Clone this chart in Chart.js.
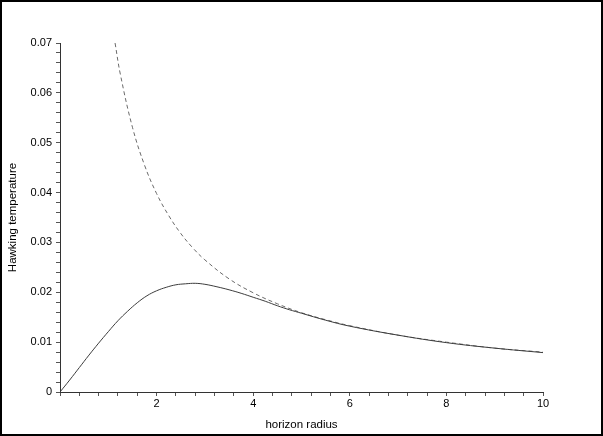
<!DOCTYPE html>
<html><head><meta charset="utf-8">
<script src="https://cdn.jsdelivr.net/npm/chart.js@4"></script>
<style>
html,body{margin:0;padding:0;background:#fff;}
#wrap{width:603px;height:436px;box-sizing:border-box;border:2px solid #000;position:relative;background:#fff;}
canvas{display:block;}
</style></head><body>
<div id="wrap"><canvas id="c" width="599" height="432"></canvas></div>
<script>
// horizon radius values (x) and Hawking temperature values (y)
const radiusSolid = [0, 0.2, 0.4, 0.6, 0.8, 1.0, 1.2, 1.4, 1.6, 1.8, 2.0, 2.2, 2.4, 2.6, 2.8, 3.0, 3.25, 3.5, 3.75, 4.0, 4.25, 4.5, 4.75, 5.0, 5.5, 6.0, 7.0, 8.0, 9.0, 10.0];
const tempSolid   = [0, 0.0024, 0.0049, 0.0074, 0.0098, 0.0121, 0.0143, 0.0162, 0.0179, 0.0193, 0.0203, 0.0210, 0.0215, 0.0217, 0.0218, 0.0216, 0.0211, 0.0205, 0.0198, 0.0190, 0.0182, 0.0173, 0.0165, 0.0158, 0.0144, 0.0132, 0.0114, 0.0099, 0.0088, 0.0079];
const radiusDashed = [1.14, 1.25, 1.5, 1.75, 2.0, 2.25, 2.5, 2.75, 3.0, 3.5, 4.0, 4.5, 5.0, 5.5, 6.0, 7.0, 8.0, 9.0, 10.0];
const tempDashed   = [0.0700, 0.0637, 0.0531, 0.0455, 0.0398, 0.0354, 0.0318, 0.0289, 0.0265, 0.0227, 0.0199, 0.0177, 0.0159, 0.0145, 0.0133, 0.0114, 0.0100, 0.0088, 0.0080];
const xTickLabels = ['2', '4', '6', '8', '10'];
const yTickLabels = ['0', '0.01', '0.02', '0.03', '0.04', '0.05', '0.06', '0.07'];
const xTitle = 'horizon radius';
const yTitle = 'Hawking temperature';

const toPts = (xs, ys) => xs.map((x, i) => ({x: x, y: ys[i]}));
const near = (v, t) => Math.abs(v - t) < 1e-6;

new Chart(document.getElementById('c'), {
  type: 'line',
  data: {
    datasets: [
      {data: toPts(radiusSolid, tempSolid), borderColor: '#3c3c3c', borderWidth: 1, pointRadius: 0, tension: 0.4, fill: false},
      {data: toPts(radiusDashed, tempDashed), borderColor: '#6a6a6a', borderWidth: 1, borderDash: [4, 3], pointRadius: 0, tension: 0.4, fill: false}
    ]
  },
  options: {
    responsive: false,
    animation: false,
    layout: {padding: {top: 41, right: 58, bottom: 0, left: 0}},
    plugins: {legend: {display: false}, tooltip: {enabled: false}},
    scales: {
      x: {
        type: 'linear', min: 0, max: 10,
        afterFit: s => { s.height = 42; },
        grid: {drawOnChartArea: false, tickLength: 4, tickColor: '#555', drawTicks: true},
        border: {display: true, color: '#333', width: 1},
        ticks: {
          stepSize: 0.4, autoSkip: false, maxRotation: 0, padding: 1, color: '#000',
          font: {family: 'Liberation Sans, Arial, sans-serif', size: 11},
          callback: v => { const l = xTickLabels.find(t => near(+t, v)); return l === undefined ? '' : l; }
        },
        title: {display: true, text: xTitle, color: '#000', font: {family: 'Liberation Sans, Arial, sans-serif', size: 11.5}, padding: {top: 0, bottom: 2}}
      },
      y: {
        type: 'linear', min: 0, max: 0.07,
        afterFit: s => { s.width = 58; },
        grid: {drawOnChartArea: false, tickLength: 4, tickColor: '#555', drawTicks: true},
        border: {display: true, color: '#333', width: 1},
        ticks: {
          stepSize: 0.002, autoSkip: false, padding: 4, color: '#000',
          font: {family: 'Liberation Sans, Arial, sans-serif', size: 11},
          callback: v => { const l = yTickLabels.find(t => near(+t, v)); return l === undefined ? '' : l; }
        },
        title: {display: true, text: yTitle, color: '#000', font: {family: 'Liberation Sans, Arial, sans-serif', size: 11.5}, padding: {top: 4, bottom: 0}}
      }
    }
  }
});
</script>
</body></html>
